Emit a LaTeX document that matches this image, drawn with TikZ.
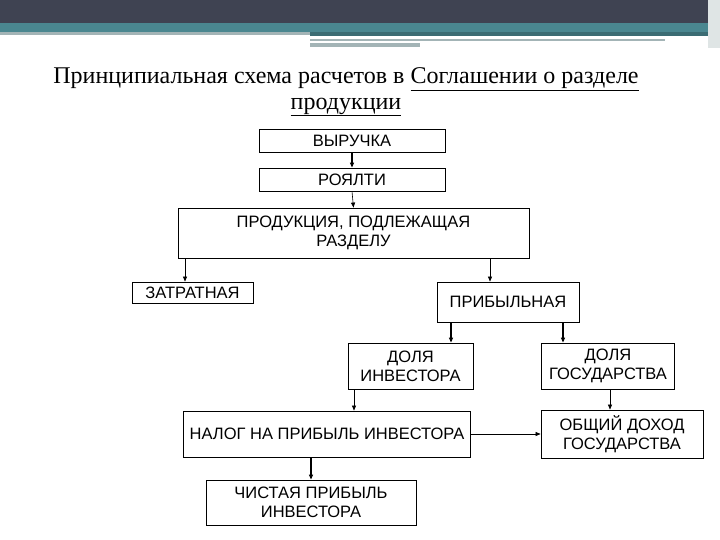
\documentclass[tikz,border=0pt]{standalone}
\usepackage{fontspec}
\setmainfont{Liberation Serif}
\newfontfamily\arialf{Liberation Sans}
\usetikzlibrary{arrows.meta}
\definecolor{barDark}{HTML}{3F4352}
\definecolor{barTeal}{HTML}{4A8790}
\definecolor{barGray}{HTML}{A3B4B6}
\begin{document}
\begin{tikzpicture}[x=1pt,y=-1pt,
  box/.style={draw,line width=0.8pt,inner sep=0pt,font=\arialf\fontsize{16.5}{19}\selectfont,align=center},
  lbl/.style={yshift=-2pt},
  thin/.style={-{Triangle[length=5pt,width=4pt]},line width=0.6pt},
  thick/.style={-{Triangle[length=5pt,width=4pt]},line width=1.4pt}]
\useasboundingbox (0,0) rectangle (720,540);
\fill[white] (0,0) rectangle (720,540);
\fill[barDark] (0,0) rectangle (720,23);
\fill[barTeal] (0,23) rectangle (720,32);
\fill[barGray] (0,32) rectangle (310,35);
\fill[barTeal!80!black] (310,32) rectangle (710,36);
\fill[barGray] (310,39) rectangle (665,41);
\fill[barGray] (310,43) rectangle (420,47);
\fill[barGray!35] (708,0) rectangle (720,48);
\node[font=\fontsize{24}{28}\selectfont] (t1) at (346,79) {Принципиальная схема расчетов в \underline{Соглашении о разделе}};
\node[font=\fontsize{24}{28}\selectfont] (t2) at (346,107) {\underline{продукции}};
\node[box,minimum width=186,minimum height=23] (v) at (352,140.5) {ВЫРУЧКА};
\node[box,minimum width=186,minimum height=23] (r) at (352,179.5) {РОЯЛТИ};
\node[box,minimum width=351,minimum height=50] (p) at (353.5,233) {ПРОДУКЦИЯ, ПОДЛЕЖАЩАЯ\\РАЗДЕЛУ};
\node[box,minimum width=121,minimum height=21] (z) at (192.5,292.5) {ЗАТРАТНАЯ};
\node[box,minimum width=142,minimum height=40] (pr) at (508,302) {ПРИБЫЛЬНАЯ};
\node[box,minimum width=125,minimum height=46] (di) at (410.5,366) {ДОЛЯ\\ИНВЕСТОРА};
\node[box,minimum width=133,minimum height=46] (dg) at (608,366) {ДОЛЯ\\ГОСУДАРСТВА};
\node[box,minimum width=287,minimum height=46] (n) at (327,434) {НАЛОГ НА ПРИБЫЛЬ ИНВЕСТОРА};
\node[box,minimum width=162,minimum height=48] (o) at (622,434) {ОБЩИЙ ДОХОД\\ГОСУДАРСТВА};
\node[box,minimum width=210,minimum height=45] (c) at (311,502.5) {ЧИСТАЯ ПРИБЫЛЬ\\ИНВЕСТОРА};
\draw[thick] (v.south) -- (r.north);
\draw[thin] (r.south) -- (p.north);
\draw[thin] (p.south -| 185,0) -- (z.north -| 185,0);
\draw[thin] (p.south -| 490,0) -- (pr.north -| 490,0);
\draw[thick] (pr.south -| 451,0) -- (di.north -| 451,0);
\draw[thick] (pr.south -| 563,0) -- (dg.north -| 563,0);
\draw[thin] (di.south -| 354,0) -- (n.north -| 354,0);
\draw[thin] (dg.south -| 610,0) -- (o.north -| 610,0);
\draw[thin] (n.east) -- (o.west);
\draw[thick] (n.south -| 311,0) -- (c.north);
\end{tikzpicture}
\end{document}
